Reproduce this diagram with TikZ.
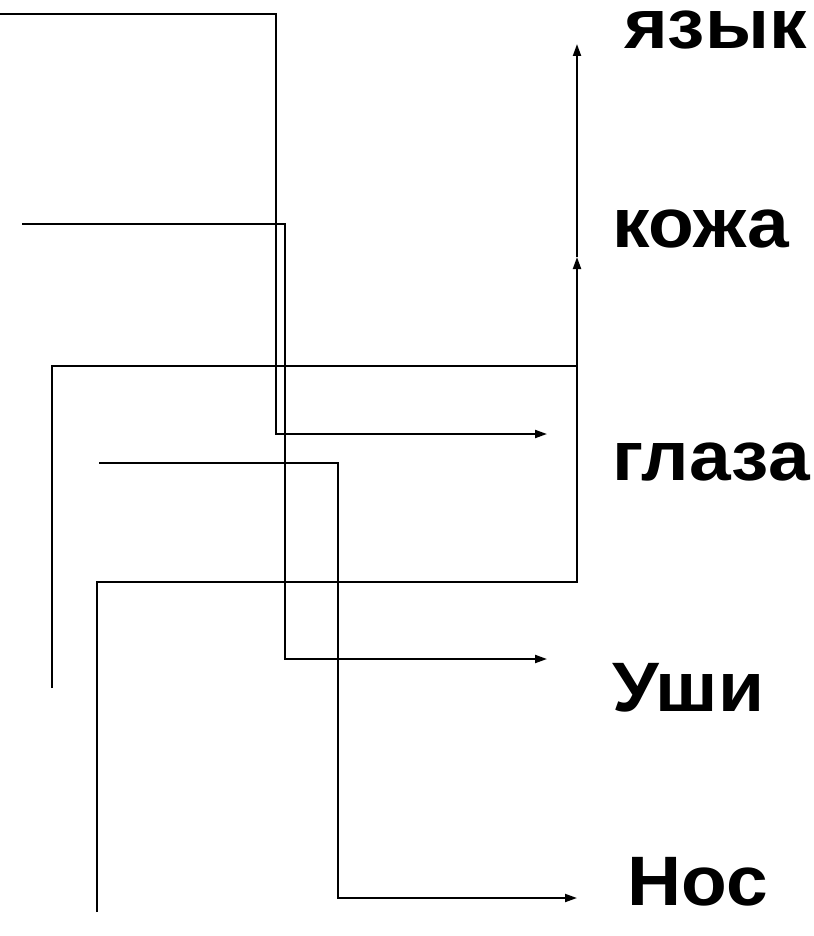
\documentclass[tikz,border=0pt]{standalone}
\usepackage{fontspec}
\setmainfont{Liberation Sans}
\usetikzlibrary{arrows.meta}
\newcommand{\widetext}[1]{\scalebox{1.07}[1]{#1}}
\begin{document}
\begin{tikzpicture}[x=1pt,y=-1pt,
  ln/.style={line width=2pt},
  arr/.style={ln,-{Triangle[length=12pt,width=8pt]}},
  lbl/.style={anchor=base west,inner sep=0pt,text height=0.72em,text depth=0pt,font=\fontsize{70}{72}\selectfont\bfseries}]
\useasboundingbox (0,0) rectangle (813,936);
% labels
\node[lbl] (yazyk) at (624,49) {\widetext{язык}};
\node[lbl] (kozha) at (612,247) {\widetext{кожа}};
\node[lbl] (glaza) at (612,480) {\widetext{глаза}};
\node[lbl] (ushi) at (612,711) {\widetext{Уши}};
\node[lbl] (nos) at (627,905) {\widetext{Нос}};
% coordinates
\coordinate (s1) at (0,14);
\coordinate (e1) at (547,434);
\coordinate (s2) at (22,224);
\coordinate (e2) at (547,659);
\coordinate (s3) at (52,688);
\coordinate (j3) at (577,366);
\coordinate (e3) at (577,44);
\coordinate (m3) at (577,257);
\coordinate (s4) at (97,912);
\coordinate (s5) at (99,463);
\coordinate (e5) at (577,898);
% connectors
\draw[arr] (s1) -| (276,434) -- (e1);
\draw[arr] (s2) -| (285,659) -- (e2);
\draw[ln] (s3) |- (j3);
\draw[ln] (s4) |- (577,582) -- (j3);
\draw[arr] (j3) -- (m3);
\draw[arr] (m3) -- (e3);
\draw[arr] (s5) -| (338,898) -- (e5);
\end{tikzpicture}
\end{document}
